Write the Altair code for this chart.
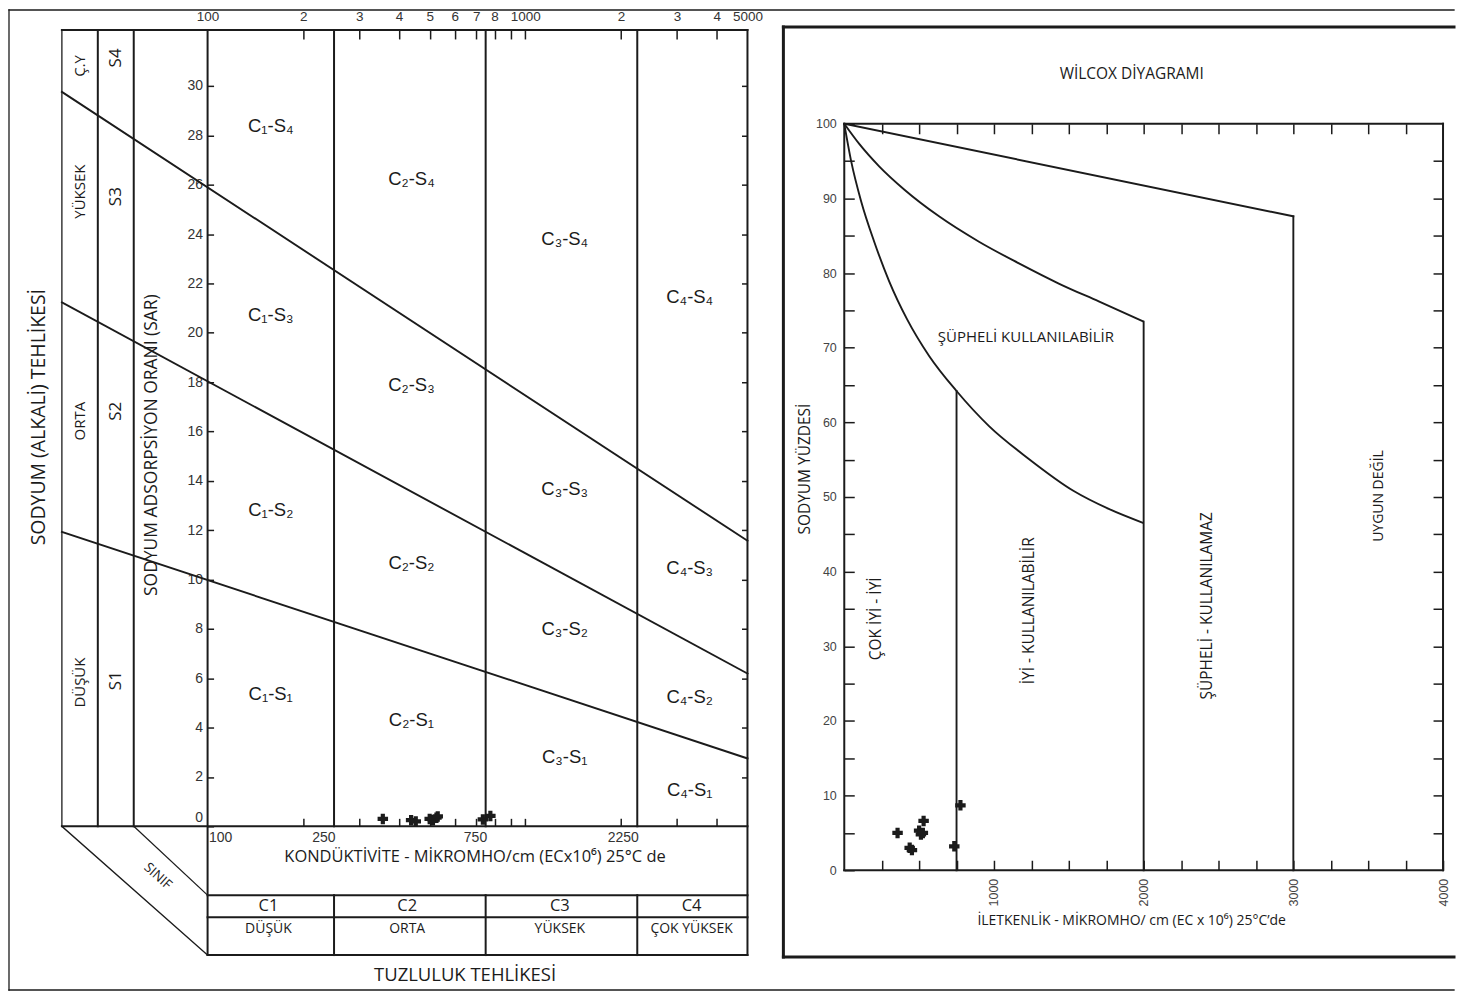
import math
import altair as alt
import pandas as pd

# ---------------- data ----------------
# water samples (EC in micromho/cm, SAR, sodium %)
sample_ec = [356, 437, 452, 500, 512, 525, 530, 735, 776]
sample_sar = [0.30, 0.25, 0.20, 0.30, 0.25, 0.35, 0.40, 0.28, 0.42]
sample_na = [5.0, 3.0, 2.7, 5.3, 4.8, 5.0, 6.6, 3.2, 8.7]

# USSL (Richards) diagram
ussl_class_ec = [250, 750, 2250]
ussl_line_sar_left = [11.93, 21.23, 29.76]   # at left edge of class columns
ussl_line_sar_right = [2.75, 6.19, 11.57]    # at EC = 5000
ussl_region_labels = ["C₁-S₄", "C₂-S₄", "C₃-S₄", "C₄-S₄",
                      "C₁-S₃", "C₂-S₃", "C₃-S₃", "C₄-S₃",
                      "C₁-S₂", "C₂-S₂", "C₃-S₂", "C₄-S₂",
                      "C₁-S₁", "C₂-S₁", "C₃-S₁", "C₄-S₁"]
ussl_region_ec = [158, 438, 1330, 3290] * 4
ussl_region_sar = [28.39, 26.24, 23.78, 21.43,
                   20.70, 17.87, 13.67, 10.47,
                   12.82, 10.68, 8.01, 5.26,
                   5.38, 4.29, 2.79, 1.46]
ussl_top_labels = [100, 200, 300, 400, 500, 600, 700, 800, 1000, 2000, 3000, 4000, 5000]
ussl_minor_ticks = [200, 300, 400, 500, 600, 700, 800, 900, 1000, 2000, 3000, 4000]
ussl_bottom_labels = [100, 250, 750, 2250]
ussl_sar_ticks = list(range(0, 31, 2))

# Wilcox diagram
wil_straight_ec = [0, 3000]
wil_straight_na = [100, 87.6]
wil_mid_ec = [0, 100, 233, 400, 633, 900, 1167, 1433, 1700, 2000]
wil_mid_na = [100, 97.3, 94.3, 91.2, 87.6, 84.2, 81.3, 78.6, 76.2, 73.5]
wil_low_ec = [0, 47, 113, 200, 300, 420, 567, 750, 967, 1233, 1533, 1767, 2000]
wil_low_na = [100, 94.9, 89.6, 84.2, 78.9, 73.8, 68.9, 64.2, 59.5, 55.1, 50.8, 48.4, 46.5]
wil_vert_ec = [750, 2000, 3000]
wil_vert_top = [64.2, 73.5, 87.6]

# ---------------- layout helpers (page pixels -> data units) ----------------
LOG50 = math.log10(50)
L_X0, L_X1, L_Y0, L_Y1 = 207, 748, 28, 826
L_W, L_H = L_X1 - L_X0, L_Y1 - L_Y0
SAR_TOP = 32.27


def lx(px):
    return 100 * 10 ** ((px - L_X0) / L_W * LOG50)


def ly(py):
    return (L_Y1 - py) / L_H * SAR_TOP


R_X0, R_X1, R_Y0, R_Y1 = 845, 1445, 28, 870
R_W, R_H = R_X1 - R_X0, R_Y1 - R_Y0
R_BOX_TOP = 122
NA_TOP = R_H / (R_Y1 - R_BOX_TOP) * 100


def rx(px):
    return (px - R_X0) / R_W * 4000


def ry(py):
    return (R_Y1 - py) / (R_Y1 - R_BOX_TOP) * 100


NUM_FONT = "Liberation Sans Narrow, Liberation Sans, Arial, sans-serif"
LAB_FONT = "Liberation Sans, Arial, sans-serif"
TXT_FONT = "Open Sans, DejaVu Sans, sans-serif"
INK = "#1b1b1b"

xs_L = alt.Scale(type="log", domain=[100, 5000], nice=False)
ys_L = alt.Scale(domain=[0, SAR_TOP], nice=False, zero=False)
xs_R = alt.Scale(domain=[0, 4000], nice=False, zero=False)
ys_R = alt.Scale(domain=[0, NA_TOP], nice=False, zero=False)


def seg_layer(segs, xs, ys, width, color=INK):
    df = pd.DataFrame(segs, columns=["x", "y", "x2", "y2"])
    return alt.Chart(df).mark_rule(strokeWidth=width, color=color, strokeCap="square").encode(
        x=alt.X("x:Q", scale=xs, axis=None),
        y=alt.Y("y:Q", scale=ys, axis=None),
        x2="x2:Q", y2="y2:Q")


def text_layer(labels, xv, yv, xs, ys, size, angle=0, font=TXT_FONT, color=INK):
    df = pd.DataFrame({"x": xv, "y": yv, "t": labels})
    return alt.Chart(df).mark_text(fontSize=size, angle=angle, font=font, color=color,
                                   align="center", baseline="middle").encode(
        x=alt.X("x:Q", scale=xs, axis=None),
        y=alt.Y("y:Q", scale=ys, axis=None),
        text="t:N")


def carrier(xs, ys, x0, y0, xaxis=None, yaxis=None):
    df = pd.DataFrame({"x": [x0], "y": [y0]})
    return alt.Chart(df).mark_point(opacity=0).encode(
        x=alt.X("x:Q", scale=xs, axis=xaxis),
        y=alt.Y("y:Q", scale=ys, axis=yaxis))


def ax(**kw):
    base = dict(title=None, grid=False, domain=False, labelFont=NUM_FONT, labelFontSize=13,
                labelColor="#333333", tickColor=INK, tickWidth=1.5, labelFlush=False,
                labelOverlap=False, format="d")
    base.update(kw)
    return alt.Axis(**base)


# ---------------- left: USSL diagram ----------------
def L(x1, y1, x2, y2):
    return (lx(x1), ly(y1), lx(x2), ly(y2))


left_thin = seg_layer([L(8, 8, 1456, 8), L(8, 8, 8, 990), L(8, 990, 1456, 990),
                       L(61, 28, 61, 826), L(61, 826, 207, 955), L(133, 826, 207, 895)],
                      xs_L, ys_L, 1.3)
left_thick = seg_layer([L(97, 28, 97, 826), L(133, 28, 133, 826),
                        L(207, 28, 207, 955), L(748, 28, 748, 955),
                        L(61, 28, 748, 28), L(61, 826, 748, 826),
                        L(207, 895, 748, 895), L(207, 917, 748, 917), L(207, 955, 748, 955)],
                       xs_L, ys_L, 2)
class_segs = []
for ec in ussl_class_ec:
    class_segs.append((ec, 0, ec, SAR_TOP))
    class_segs.append((ec, ly(895), ec, ly(955)))
left_class = seg_layer(class_segs, xs_L, ys_L, 2)
sar_segs = [(lx(61), a, 5000, b) for a, b in zip(ussl_line_sar_left, ussl_line_sar_right)]
left_sar = seg_layer(sar_segs, xs_L, ys_L, 1.9)

left_points = alt.Chart(pd.DataFrame({"ec": sample_ec, "sar": sample_sar})).mark_point(
    shape="cross", filled=True, size=110, color=INK, opacity=1).encode(
    x=alt.X("ec:Q", scale=xs_L, axis=None), y=alt.Y("sar:Q", scale=ys_L, axis=None))

left_regions = text_layer(ussl_region_labels, ussl_region_ec, ussl_region_sar, xs_L, ys_L, 18.5,
                          font=LAB_FONT)

col1 = text_layer(["Ç.Y", "YÜKSEK", "ORTA", "DÜŞÜK"], [lx(79)] * 4,
                  [ly(64), ly(190), ly(420), ly(682)], xs_L, ys_L, 15, angle=270)
col2 = text_layer(["S4", "S3", "S2", "S1"], [lx(115)] * 4,
                  [ly(56), ly(195), ly(410), ly(680)], xs_L, ys_L, 17, angle=270)
big_y = text_layer(["SODYUM (ALKALİ) TEHLİKESİ"], [lx(38)], [ly(416)], xs_L, ys_L, 19.5, angle=270)
sar_title = text_layer(["SODYUM ADSORPSİYON ORANI (SAR)"], [lx(151)], [ly(444)], xs_L, ys_L, 17.5,
                       angle=270)
ec_title = text_layer(["KONDÜKTİVİTE - MİKROMHO/cm (ECx10⁶) 25°C de"], [lx(475)], [ly(857)],
                      xs_L, ys_L, 16.5)
cls = text_layer(["C1", "C2", "C3", "C4"], [lx(268), lx(407), lx(560), lx(692)], [ly(906)] * 4,
                 xs_L, ys_L, 16.5)
cls2 = text_layer(["DÜŞÜK", "ORTA", "YÜKSEK", "ÇOK YÜKSEK"],
                  [lx(268), lx(407), lx(560), lx(692)], [ly(929)] * 4, xs_L, ys_L, 14)
salt = text_layer(["TUZLULUK TEHLİKESİ"], [lx(465)], [ly(975)], xs_L, ys_L, 18.5)
sinif = text_layer(["SINIF"], [lx(157)], [ly(876)], xs_L, ys_L, 13.5, angle=42)

top_expr = ("datum.value == 100 || datum.value == 1000 || datum.value == 5000 ? "
            "datum.label : substring(datum.label, 0, 1)")
left_axes = [
    carrier(xs_L, ys_L, 1000, 10, xaxis=ax(orient="top", values=ussl_top_labels, labelExpr=top_expr,
                                           ticks=False, tickSize=0, labelPadding=6, labelFontSize=13.5)),
    carrier(xs_L, ys_L, 1000, 10, xaxis=ax(orient="top", values=ussl_minor_ticks, labels=False,
                                           tickSize=9, offset=-9)),
    carrier(xs_L, ys_L, 1000, 10, xaxis=ax(orient="bottom", values=ussl_bottom_labels, ticks=False,
                                           tickSize=0, labelPadding=4, labelFont=LAB_FONT,
                                           labelFontSize=14, labelOffset=1,
                                           labelAlign={"condition": {"test": "datum.value == 100",
                                                                     "value": "left"},
                                                       "value": "right"})),
    carrier(xs_L, ys_L, 1000, 10, xaxis=ax(orient="bottom", values=ussl_minor_ticks, labels=False,
                                           tickSize=8, offset=-8)),
    carrier(xs_L, ys_L, 1000, 10, yaxis=ax(orient="left", values=ussl_sar_ticks, offset=-6,
                                           tickSize=7, labelPadding=4, labelFontSize=14,
                                           labelOffset={"condition": {"test": "datum.value == 0",
                                                                      "value": -9},
                                                        "value": 0})),
    carrier(xs_L, ys_L, 1000, 10, yaxis=ax(orient="right", values=ussl_sar_ticks[1:], labels=False,
                                           offset=-6, tickSize=6)),
]

left = alt.layer(left_thin, left_thick, left_class, left_sar, left_points, left_regions,
                 col1, col2, big_y, sar_title, ec_title, cls, cls2, salt, sinif,
                 *left_axes).resolve_axis(x="independent", y="independent").properties(
    width=L_W, height=L_H)


# ---------------- right: Wilcox diagram ----------------
def R(x1, y1, x2, y2):
    return (rx(x1), ry(y1), rx(x2), ry(y2))


right_frame = seg_layer([R(784, 25, 1456, 25), R(784, 25, 784, 957), R(784, 957, 1456, 957)],
                        xs_R, ys_R, 3)
right_box = seg_layer([R(845, 122, 1445, 122), R(845, 870, 1445, 870),
                       R(845, 122, 845, 870), R(1445, 122, 1445, 870)], xs_R, ys_R, 2)
wil_rules = seg_layer([(wil_straight_ec[0], wil_straight_na[0], wil_straight_ec[1], wil_straight_na[1])]
                      + [(e, t, e, 0) for e, t in zip(wil_vert_ec, wil_vert_top)],
                      xs_R, ys_R, 1.9)
curve_df = pd.concat([
    pd.DataFrame({"ec": wil_mid_ec, "na": wil_mid_na, "c": "mid", "i": range(len(wil_mid_ec))}),
    pd.DataFrame({"ec": wil_low_ec, "na": wil_low_na, "c": "low", "i": range(len(wil_low_ec))}),
])
wil_curves = alt.Chart(curve_df).mark_line(color=INK, strokeWidth=1.9, interpolate="monotone").encode(
    x=alt.X("ec:Q", scale=xs_R, axis=None), y=alt.Y("na:Q", scale=ys_R, axis=None),
    detail="c:N", order="i:Q")
right_points = alt.Chart(pd.DataFrame({"ec": sample_ec, "na": sample_na})).mark_point(
    shape="cross", filled=True, size=110, color=INK, opacity=1).encode(
    x=alt.X("ec:Q", scale=xs_R, axis=None), y=alt.Y("na:Q", scale=ys_R, axis=None))

r_title = text_layer(["WİLCOX DİYAGRAMI"], [rx(1133)], [ry(72)], xs_R, ys_R, 15.5)
r_ytitle = text_layer(["SODYUM YÜZDESİ"], [rx(806)], [ry(468)], xs_R, ys_R, 15.5, angle=270)
r_xtitle = text_layer(["İLETKENLİK - MİKROMHO/ cm (EC x 10⁶) 25°C’de"], [rx(1133)], [ry(921)],
                      xs_R, ys_R, 14)
r_h = text_layer(["ŞÜPHELİ KULLANILABİLİR"], [rx(1027)], [ry(336)], xs_R, ys_R, 15)
r_v = text_layer(["ÇOK İYİ - İYİ", "İYİ - KULLANILABİLİR", "ŞÜPHELİ - KULLANILAMAZ"],
                 [rx(877), rx(1030), rx(1208)],
                 [ry(618), ry(610), ry(605)], xs_R, ys_R, 15.5, angle=270)
r_v2 = text_layer(["UYGUN DEĞİL"], [rx(1381)], [ry(495)], xs_R, ys_R, 14, angle=270)

right_axes = [
    carrier(xs_R, ys_R, 1000, 50, yaxis=ax(orient="left", values=list(range(0, 101, 5)),
                                           labelExpr="datum.value % 10 == 0 ? datum.label : ''",
                                           offset=-10, tickSize=10, labelPadding=8,
                                           labelFont=LAB_FONT, labelFontSize=12.5,
                                           labelColor="#444444")),
    carrier(xs_R, ys_R, 1000, 50, yaxis=ax(orient="right", values=list(range(5, 100, 5)),
                                           labels=False, offset=-10, tickSize=10)),
    carrier(xs_R, ys_R, 1000, 50, xaxis=ax(orient="bottom", values=list(range(250, 4001, 250)),
                                           labelExpr="datum.value % 1000 == 0 ? datum.label : ''",
                                           labelAngle=270, offset=-10, tickSize=10, labelPadding=8,
                                           labelFont=LAB_FONT, labelFontSize=12.5,
                                           labelColor="#444444")),
    carrier(xs_R, ys_R, 1000, 50, xaxis=ax(orient="top", values=list(range(250, 4000, 250)),
                                           labels=False, offset=-(R_BOX_TOP - R_Y0) - 10, tickSize=10)),
]

right = alt.layer(right_frame, right_box, wil_rules, wil_curves, right_points,
                  r_title, r_ytitle, r_xtitle, r_h, r_v, r_v2,
                  *right_axes).resolve_axis(x="independent", y="independent").properties(
    width=R_W, height=R_H)

chart = alt.hconcat(left, right, spacing=R_X0 - L_X1, bounds="flush").properties(
    padding=0).configure_view(stroke=None)

chart.save("out.html", embed_options={"renderer": "svg", "actions": False})
